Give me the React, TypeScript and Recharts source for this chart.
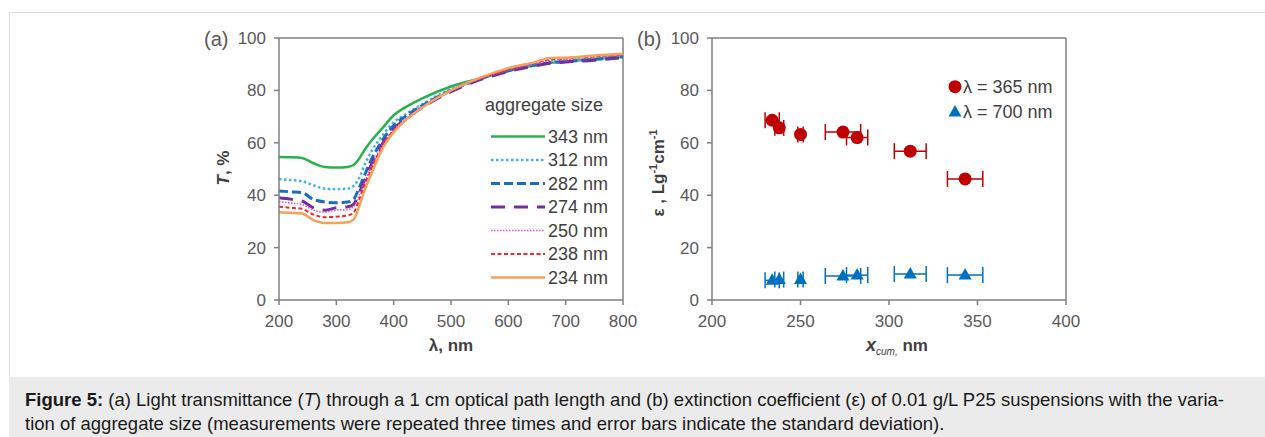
import React from "react";
import {
  ErrorBar,
  Legend,
  Line,
  LineChart,
  ReferenceLine,
  Scatter,
  ScatterChart,
  XAxis,
  YAxis,
} from "recharts";

const FONT = "'Liberation Sans', Arial, sans-serif";

// (a) transmittance spectra
const wavelengths = [200, 220, 240, 260, 280, 300, 320, 330, 340, 350, 360, 380, 400, 420, 450, 500, 550, 600, 650, 670, 700, 750, 800];
const t343 = [54.6, 54.5, 54.2, 52.2, 50.8, 50.6, 50.8, 51.5, 54.0, 57.5, 60.5, 65.5, 70.5, 73.5, 77.0, 81.5, 84.5, 87.5, 89.8, 90.5, 91.0, 92.0, 93.0];
const t312 = [46.1, 45.8, 45.3, 43.8, 42.5, 42.3, 42.5, 43.5, 46.7, 51.9, 56.3, 62.7, 67.9, 70.8, 74.8, 80.5, 84.5, 87.8, 90.0, 90.8, 91.2, 92.0, 93.0];
const t282 = [41.6, 41.3, 41.0, 38.4, 37.4, 37.1, 37.4, 38.4, 42.9, 48.0, 53.1, 60.8, 66.6, 70.0, 74.2, 80.0, 84.3, 87.5, 89.8, 90.5, 91.0, 91.8, 92.8];
const t274 = [39.0, 38.5, 37.8, 35.2, 34.3, 35.2, 35.6, 36.5, 41.0, 46.1, 51.2, 59.5, 65.3, 69.0, 73.5, 79.5, 84.0, 87.2, 89.5, 90.3, 90.8, 91.5, 92.5];
const t250 = [37.5, 37.0, 36.5, 34.3, 33.5, 34.3, 34.6, 35.6, 40.0, 45.5, 50.6, 59.2, 65.0, 69.0, 73.5, 79.8, 84.3, 87.8, 90.3, 91.3, 91.8, 92.8, 93.5];
const t238 = [35.6, 35.2, 34.8, 32.6, 31.6, 31.8, 32.3, 33.3, 38.4, 44.2, 49.3, 58.6, 64.7, 68.5, 73.5, 80.0, 84.5, 88.0, 90.8, 91.8, 92.2, 93.0, 93.8];
const t234 = [33.5, 33.3, 33.0, 30.5, 29.4, 29.4, 29.7, 30.7, 35.9, 42.3, 47.6, 57.6, 64.0, 68.5, 73.5, 80.0, 84.8, 88.5, 91.0, 92.3, 92.5, 93.3, 94.0];
const lambdaTicks = [200, 300, 400, 500, 600, 700, 800];
const tTicks = [0, 20, 40, 60, 80, 100];

// (b) extinction coefficient
const aggregateSizes = [234, 238, 250, 274, 282, 312, 343];
const sizeSd = [4, 2.5, 1.5, 10, 6, 9, 10];
const eps365 = [68.6, 65.7, 63.2, 64.1, 62.0, 56.8, 46.2];
const eps700 = [7.5, 7.8, 7.8, 9.2, 9.5, 9.9, 9.5];
const xcumTicks = [200, 250, 300, 350, 400];
const epsTicks = [0, 20, 40, 60, 80, 100];

const series = [
  { key: "s343", name: "343 nm", values: t343, color: "#2bb04f", width: 2.5, dash: undefined },
  { key: "s312", name: "312 nm", values: t312, color: "#41b3ea", width: 2.5, dash: "2.5 2.5" },
  { key: "s282", name: "282 nm", values: t282, color: "#1c6dc2", width: 3, dash: "9 4" },
  { key: "s274", name: "274 nm", values: t274, color: "#7030a0", width: 3, dash: "14 9" },
  { key: "s250", name: "250 nm", values: t250, color: "#e052c8", width: 1.5, dash: "1.5 1.5" },
  { key: "s238", name: "238 nm", values: t238, color: "#ee2a2a", width: 2, dash: "4 2.5" },
  { key: "s234", name: "234 nm", values: t234, color: "#f6a05a", width: 2.5, dash: undefined },
];

const spectra = wavelengths.map((wl, i) => {
  const row: Record<string, number> = { wl };
  series.forEach((s) => (row[s.key] = s.values[i]));
  return row;
});

const red = aggregateSizes.map((x, i) => ({ x, y: eps365[i], err: sizeSd[i] }));
const blue = aggregateSizes.map((x, i) => ({ x, y: eps700[i], err: sizeSd[i] }));

const axisStroke = { stroke: "#7f7f7f", strokeWidth: 1.5 };
const tickStyle = { fill: "#595959", fontSize: 17, fontFamily: FONT };

function SpectraLegend() {
  return (
    <svg width={140} height={200} style={{ fontFamily: FONT }}>
      <text x={0} y={15} fontSize={18} fill="#404040">aggregate size</text>
      {series.map((s, i) => {
        const cy = 40.5 + i * 23.5;
        return (
          <g key={s.key}>
            <line x1={6} x2={60} y1={cy} y2={cy} stroke={s.color} strokeWidth={s.width} strokeDasharray={s.dash} />
            <text x={63} y={cy + 6} fontSize={18} fill="#404040">{s.name}</text>
          </g>
        );
      })}
    </svg>
  );
}

function EpsLegend() {
  return (
    <svg width={150} height={55} style={{ fontFamily: FONT }}>
      <circle cx={10} cy={14.7} r={6.5} fill="#c00000" />
      <text x={18} y={21} fontSize={18} fill="#404040">λ = 365 nm</text>
      <polygon points="10,33 3.5,44.5 16.5,44.5" fill="#0070c0" />
      <text x={18} y={46} fontSize={18} fill="#404040">λ = 700 nm</text>
    </svg>
  );
}

const RedDot = (p: any) => <circle cx={p.cx} cy={p.cy} r={6.5} fill="#c00000" />;
const BlueTri = (p: any) => (
  <polygon
    points={`${p.cx},${p.cy - 7} ${p.cx - 6.5},${p.cy + 4.5} ${p.cx + 6.5},${p.cy + 4.5}`}
    fill="#0070c0"
  />
);

export default function App() {
  return (
    <div style={{ position: "relative", width: 1265, height: 437, background: "#fff", overflow: "hidden" }}>
      <style>{`body{margin:0}`}</style>
      <div
        style={{
          position: "absolute",
          left: 9,
          top: 12,
          width: 1260,
          height: 366,
          border: "1px solid #dedede",
          boxSizing: "border-box",
        }}
      />
      <div style={{ position: "absolute", left: 9, top: 377, width: 1256, height: 60, background: "#ebebeb" }} />

      <div style={{ position: "absolute", left: 0, top: 0 }}>
        <LineChart width={640} height={370} data={spectra} margin={{ top: 38, right: 17, bottom: 40, left: 219 }}>
          <XAxis
            dataKey="wl"
            type="number"
            domain={[200, 800]}
            ticks={lambdaTicks}
            height={30}
            axisLine={axisStroke}
            tickLine={axisStroke}
            tickSize={5}
            tickMargin={10}
            tick={tickStyle}
          />
          <YAxis
            type="number"
            domain={[0, 100]}
            ticks={tTicks}
            width={60}
            axisLine={axisStroke}
            tickLine={axisStroke}
            tickSize={5}
            tickMargin={8}
            tick={tickStyle}
          />
          <ReferenceLine y={100} stroke="#7f7f7f" strokeWidth={1.5} />
          <ReferenceLine x={800} stroke="#7f7f7f" strokeWidth={1.5} />
          {series.map((s) => (
            <Line
              key={s.key}
              dataKey={s.key}
              type="monotone"
              stroke={s.color}
              strokeWidth={s.width}
              strokeDasharray={s.dash}
              dot={false}
              isAnimationActive={false}
            />
          ))}
          <Legend
            layout="vertical"
            align="center"
            verticalAlign="middle"
            content={() => <SpectraLegend />}
            wrapperStyle={{ left: 485, top: 96, width: 140 }}
          />
        </LineChart>
      </div>

      <div style={{ position: "absolute", left: 630, top: 0 }}>
        <ScatterChart width={450} height={370} margin={{ top: 38, right: 14, bottom: 40, left: 32 }}>
          <XAxis
            dataKey="x"
            type="number"
            domain={[200, 400]}
            ticks={xcumTicks}
            height={30}
            axisLine={axisStroke}
            tickLine={axisStroke}
            tickSize={5}
            tickMargin={10}
            tick={tickStyle}
          />
          <YAxis
            dataKey="y"
            type="number"
            domain={[0, 100]}
            ticks={epsTicks}
            width={50}
            axisLine={axisStroke}
            tickLine={axisStroke}
            tickSize={5}
            tickMargin={8}
            tick={tickStyle}
          />
          <ReferenceLine y={100} stroke="#7f7f7f" strokeWidth={1.5} />
          <ReferenceLine x={400} stroke="#7f7f7f" strokeWidth={1.5} />
          <Scatter data={red} shape={RedDot} isAnimationActive={false}>
            <ErrorBar dataKey="err" direction="x" width={8} stroke="#c00000" strokeWidth={1.5} />
          </Scatter>
          <Scatter data={blue} shape={BlueTri} isAnimationActive={false}>
            <ErrorBar dataKey="err" direction="x" width={8} stroke="#0070c0" strokeWidth={1.5} />
          </Scatter>
          <Legend
            layout="vertical"
            align="center"
            verticalAlign="middle"
            content={() => <EpsLegend />}
            wrapperStyle={{ left: 315, top: 72, width: 150 }}
          />
        </ScatterChart>
      </div>

      <svg
        width={1265}
        height={437}
        style={{ position: "absolute", left: 0, top: 0, pointerEvents: "none", fontFamily: FONT }}
      >
        <text x={204} y={46} fontSize={20} fill="#595959">(a)</text>
        <text x={637} y={46} fontSize={20} fill="#595959">(b)</text>
        <text transform="translate(229,168) rotate(-90)" textAnchor="middle" fontSize={17} fontWeight="bold" fill="#404040">
          <tspan fontStyle="italic">T</tspan>, %
        </text>
        <text x={451} y={351} textAnchor="middle" fontSize={17} fontWeight="bold" fill="#404040">λ, nm</text>
        <text transform="translate(664,173) rotate(-90)" textAnchor="middle" fontSize={17} fontWeight="bold" fill="#404040">
          ε , Lg<tspan fontSize={11} dy={-7}>-1</tspan>
          <tspan dy={7}>cm</tspan>
          <tspan fontSize={11} dy={-7}>-1</tspan>
        </text>
        <text x={897} y={351} textAnchor="middle" fontWeight="bold" fill="#404040">
          <tspan fontSize={18} fontStyle="italic">x</tspan>
          <tspan fontSize={10} fontWeight="normal" fontStyle="italic" dy={4}>cum,</tspan>
          <tspan fontSize={17} dy={-4}> nm</tspan>
        </text>
      </svg>

      <div
        style={{
          position: "absolute",
          left: 25,
          top: 388,
          fontFamily: FONT,
          fontSize: 18.5,
          lineHeight: "24px",
          color: "#1a1a1a",
          whiteSpace: "nowrap",
        }}
      >
        <b>Figure 5:</b> (a) Light transmittance (<i>T</i>) through a 1 cm optical path length and (b) extinction
        coefficient (ε) of 0.01 g/L P25 suspensions with the varia-
        <br />
        tion of aggregate size (measurements were repeated three times and error bars indicate the standard deviation).
      </div>
    </div>
  );
}
